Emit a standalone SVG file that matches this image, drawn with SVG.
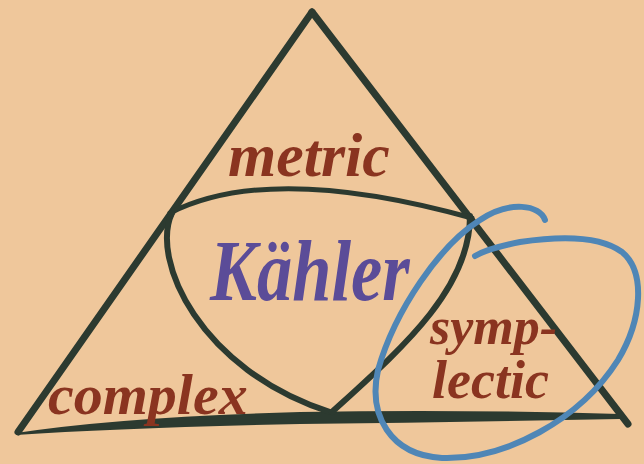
<svg xmlns="http://www.w3.org/2000/svg" width="644" height="464" viewBox="0 0 644 464">
<style>
.ink{fill:none;stroke:#2c3a30;stroke-linecap:round;stroke-linejoin:round}
.red{fill:#8a3420;font-family:"Liberation Serif","DejaVu Serif",serif;font-style:italic;font-weight:bold}
.pur{fill:#5b4c98;font-family:"Liberation Serif","DejaVu Serif",serif;font-style:italic;font-weight:bold}
.blue{fill:none;stroke:#4f86b6;stroke-linecap:round}
</style>
<rect width="644" height="464" fill="#efc79b"/>
<g id="triangle">
<path class="ink" d="M18,432 L312,12" stroke-width="7"/>
<path class="ink" d="M312,12 L628,424" stroke-width="7"/>
<path fill="#2c3a30" d="M16,433 Q120,417 300,412 Q460,409 620,414 L620,419 Q460,422 300,424 Q120,428 16,435 Z"/>
</g>
<g id="lens">
<path class="ink" d="M170,213 Q270,162 472,218" stroke-width="5"/>
<path class="ink" d="M172,213 C150,260 200,370 330,412" stroke-width="6"/>
<path class="ink" d="M470,216 C470,290 400,350 332,412" stroke-width="6"/>
</g>
<g id="circle">
<path class="blue" stroke-width="6" d="M545,220 C540,205 510,200 480,220 C440,245 395,310 378,370 C368,415 390,455 442,458 C505,460 580,420 618,360 C642,320 646,272 622,252 C600,236 560,236 520,242 C500,246 485,250 475,256"/>
</g>
<g id="labels">
<text class="red" x="228" y="176" font-size="62">metric</text>
<text class="pur" x="210" y="300" font-size="86" transform="translate(210,300) scale(0.82,1) translate(-210,-300)">Kähler</text>
<text class="red" x="430" y="344" font-size="52">symp-</text>
<text class="red" x="432" y="398" font-size="54">lectic</text>
<text class="red" x="48" y="414" font-size="58">complex</text>
</g>
</svg>
